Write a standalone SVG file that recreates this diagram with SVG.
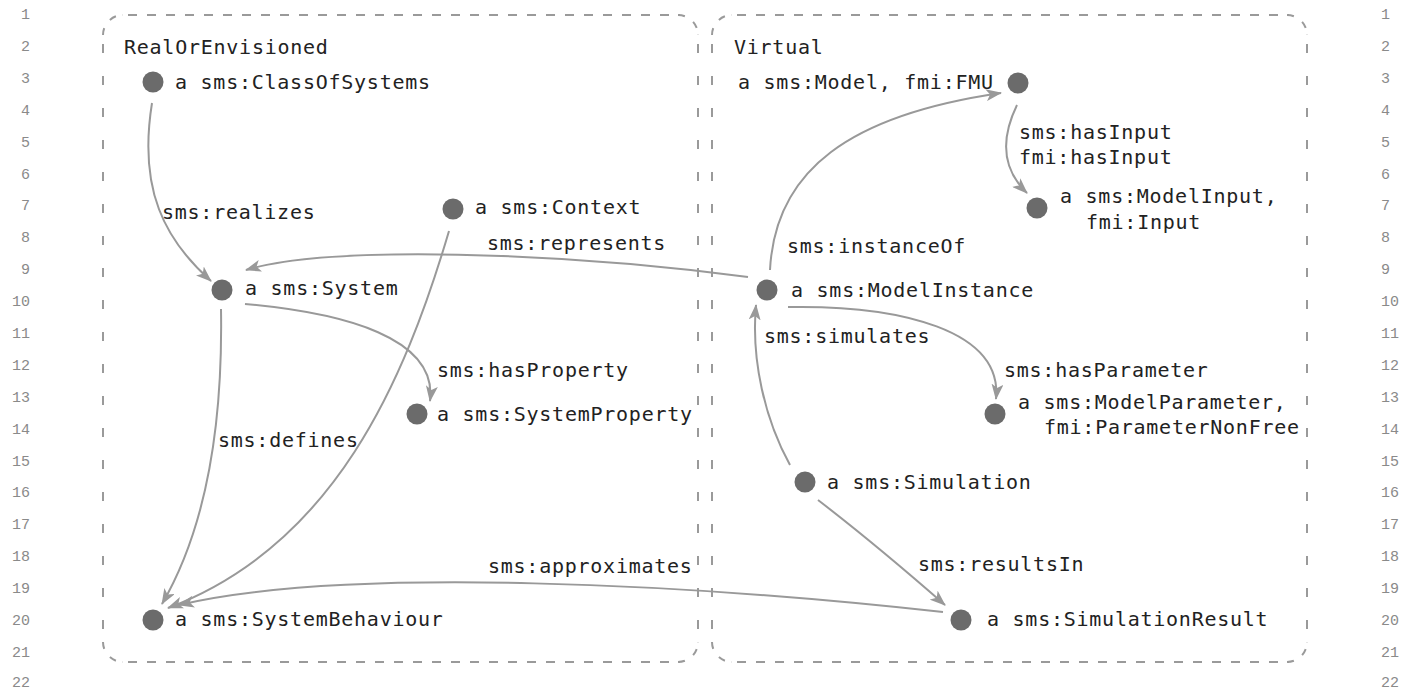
<svg xmlns="http://www.w3.org/2000/svg" width="1415" height="692" viewBox="0 0 1415 692">
<style>
.ln{font-family:"Liberation Mono","DejaVu Sans Mono",monospace;font-size:15px;fill:#8a8a8a}
.lnl{text-anchor:end}
.t{font-family:"DejaVu Sans Mono","Liberation Mono",monospace;font-size:20px;letter-spacing:0.75px;fill:#222}
.dot{fill:#6b6b6b}
.h{stroke:#9a9a9a;stroke-width:2;fill:none;stroke-dasharray:9 10}
.v{stroke:#9a9a9a;stroke-width:2;fill:none;stroke-dasharray:9 23}
.c{stroke:#9a9a9a;stroke-width:2;fill:none;stroke-dasharray:7 10 7}
.e{stroke:#999;stroke-width:2;fill:none;marker-end:url(#ah)}
</style>
<defs>
<marker id="ah" viewBox="0 0 16 12" refX="15" refY="6" markerWidth="16" markerHeight="12" markerUnits="userSpaceOnUse" orient="auto">
<path d="M0,0 L16,6 L0,12 L4,6 Z" fill="#999"/>
</marker>
</defs>
<rect width="1415" height="692" fill="#fff"/>
<g id="line-numbers">
<text class="ln lnl" x="30" y="19">1</text><text class="ln lnl" x="30" y="51">2</text><text class="ln lnl" x="30" y="83">3</text><text class="ln lnl" x="30" y="115">4</text><text class="ln lnl" x="30" y="147">5</text><text class="ln lnl" x="30" y="179">6</text><text class="ln lnl" x="30" y="210">7</text><text class="ln lnl" x="30" y="242">8</text><text class="ln lnl" x="30" y="274">9</text><text class="ln lnl" x="30" y="306">10</text><text class="ln lnl" x="30" y="338">11</text><text class="ln lnl" x="30" y="370">12</text><text class="ln lnl" x="30" y="402">13</text><text class="ln lnl" x="30" y="434">14</text><text class="ln lnl" x="30" y="466">15</text><text class="ln lnl" x="30" y="497">16</text><text class="ln lnl" x="30" y="529">17</text><text class="ln lnl" x="30" y="561">18</text><text class="ln lnl" x="30" y="593">19</text><text class="ln lnl" x="30" y="625">20</text><text class="ln lnl" x="30" y="657">21</text><text class="ln lnl" x="30" y="687">22</text>
<text class="ln" x="1381" y="19">1</text><text class="ln" x="1381" y="51">2</text><text class="ln" x="1381" y="83">3</text><text class="ln" x="1381" y="115">4</text><text class="ln" x="1381" y="147">5</text><text class="ln" x="1381" y="179">6</text><text class="ln" x="1381" y="210">7</text><text class="ln" x="1381" y="242">8</text><text class="ln" x="1381" y="274">9</text><text class="ln" x="1381" y="306">10</text><text class="ln" x="1381" y="338">11</text><text class="ln" x="1381" y="370">12</text><text class="ln" x="1381" y="402">13</text><text class="ln" x="1381" y="434">14</text><text class="ln" x="1381" y="466">15</text><text class="ln" x="1381" y="497">16</text><text class="ln" x="1381" y="529">17</text><text class="ln" x="1381" y="561">18</text><text class="ln" x="1381" y="593">19</text><text class="ln" x="1381" y="625">20</text><text class="ln" x="1381" y="657">21</text><text class="ln" x="1381" y="687">22</text>
</g>
<g id="group-real">
<path class="h" d="M128,15 H680"/>
<path class="h" d="M128,662 H680"/>
<path class="v" d="M103,42 V640" style="stroke-dashoffset:-2"/>
<path class="v" d="M698,42 V640" style="stroke-dashoffset:-2"/>
<path class="c" d="M103,35 A20,20 0 0 1 123,15"/>
<path class="c" d="M678,15 A20,20 0 0 1 698,35"/>
<path class="c" d="M103,642 A20,20 0 0 0 123,662"/>
<path class="c" d="M678,662 A20,20 0 0 0 698,642"/>
<text class="t" x="124" y="54">RealOrEnvisioned</text>
</g>
<g id="group-virtual">
<path class="h" d="M737,15 H1289"/>
<path class="h" d="M737,662 H1289"/>
<path class="v" d="M712,42 V640" style="stroke-dashoffset:-2"/>
<path class="v" d="M1307,42 V640" style="stroke-dashoffset:-2"/>
<path class="c" d="M712,35 A20,20 0 0 1 732,15"/>
<path class="c" d="M1287,15 A20,20 0 0 1 1307,35"/>
<path class="c" d="M712,642 A20,20 0 0 0 732,662"/>
<path class="c" d="M1287,662 A20,20 0 0 0 1307,642"/>
<text class="t" x="734" y="54">Virtual</text>
</g>
<g id="connectors">
<g id="e-realizes"><path class="e" d="M152,103 C138,190 165,240 211,281"/><text class="t" x="162" y="219">sms:realizes</text></g>
<g id="e-context"><path class="e" d="M449,231 C405,380 335,545 168,608"/></g>
<g id="e-represents"><path class="e" d="M748,277 C560,252 330,245 246,270"/><text class="t" x="487" y="250">sms:represents</text></g>
<g id="e-hasProperty"><path class="e" d="M245,304 C345,313 438,338 430,401"/><text class="t" x="437" y="377">sms:hasProperty</text></g>
<g id="e-defines"><path class="e" d="M221,309 C223,430 205,530 162,604"/><text class="t" x="218" y="447">sms:defines</text></g>
<g id="e-approximates"><path class="e" d="M943,612 C700,585 350,565 179,605"/><text class="t" x="488" y="573">sms:approximates</text></g>
<g id="e-instanceOf"><path class="e" d="M770,270 C775,170 850,115 1001,93"/><text class="t" x="787" y="253">sms:instanceOf</text></g>
<g id="e-hasInput"><path class="e" d="M1017,105 C1000,140 1003,170 1027,193"/><text class="t" x="1019" y="139">sms:hasInput</text><text class="t" x="1019" y="164">fmi:hasInput</text></g>
<g id="e-hasParameter"><path class="e" d="M788,307 C900,305 1003,330 996,399"/><text class="t" x="1004" y="377">sms:hasParameter</text></g>
<g id="e-simulates"><path class="e" d="M790,465 C765,420 751,360 756,305"/><text class="t" x="764" y="343">sms:simulates</text></g>
<g id="e-resultsIn"><path class="e" d="M818,500 C870,540 905,570 945,605"/><text class="t" x="918" y="571">sms:resultsIn</text></g>
</g>
<g id="n-ClassOfSystems"><circle class="dot" cx="153" cy="82" r="10.5"/><text class="t" x="175" y="89">a sms:ClassOfSystems</text></g>
<g id="n-Context"><circle class="dot" cx="453" cy="209" r="10.5"/><text class="t" x="475" y="214">a sms:Context</text></g>
<g id="n-System"><circle class="dot" cx="222" cy="290" r="10.5"/><text class="t" x="245" y="295">a sms:System</text></g>
<g id="n-SystemProperty"><circle class="dot" cx="417" cy="414" r="10.5"/><text class="t" x="437" y="421">a sms:SystemProperty</text></g>
<g id="n-SystemBehaviour"><circle class="dot" cx="153" cy="620" r="10.5"/><text class="t" x="175" y="626">a sms:SystemBehaviour</text></g>
<g id="n-Model"><circle class="dot" cx="1018" cy="83" r="10.5"/><text class="t" x="738" y="89">a sms:Model, fmi:FMU</text></g>
<g id="n-ModelInput"><circle class="dot" cx="1037" cy="208" r="10.5"/><text class="t" x="1060" y="203">a sms:ModelInput,</text><text class="t" x="1086" y="229">fmi:Input</text></g>
<g id="n-ModelInstance"><circle class="dot" cx="767" cy="290" r="10.5"/><text class="t" x="791" y="297">a sms:ModelInstance</text></g>
<g id="n-ModelParameter"><circle class="dot" cx="995" cy="414" r="10.5"/><text class="t" x="1018" y="409">a sms:ModelParameter,</text><text class="t" x="1044" y="434">fmi:ParameterNonFree</text></g>
<g id="n-Simulation"><circle class="dot" cx="805" cy="482" r="10.5"/><text class="t" x="827" y="489">a sms:Simulation</text></g>
<g id="n-SimulationResult"><circle class="dot" cx="961" cy="620" r="10.5"/><text class="t" x="987" y="626">a sms:SimulationResult</text></g>
</svg>
